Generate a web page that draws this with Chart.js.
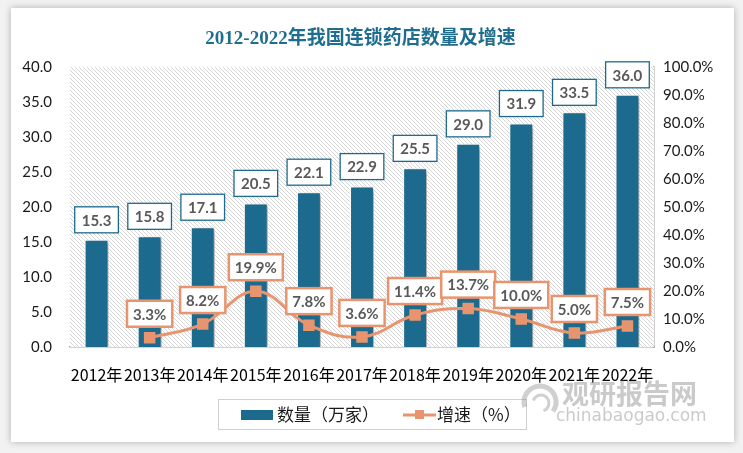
<!DOCTYPE html>
<html>
<head>
<meta charset="utf-8">
<script src="https://cdn.jsdelivr.net/npm/chart.js@4.4.0/dist/chart.umd.min.js"></script>
<style>
  html, body { margin: 0; padding: 0; background: #f2f2f2; }
  #wrap { position: relative; width: 743px; height: 453px; overflow: hidden; }
  #card { position: absolute; left: 11px; top: 8px; width: 723px; height: 434px; background: #fff;
          box-shadow: 0 0 7px rgba(0,0,0,0.28); }
  #c { position: absolute; left: 0; top: 0; }
</style>
</head>
<body>
<div id="wrap">
  <div id="card"></div>
  <canvas id="c" width="743" height="453"></canvas>
</div>
<script>
// 数据
const years = ['2012年', '2013年', '2014年', '2015年', '2016年', '2017年', '2018年', '2019年', '2020年', '2021年', '2022年'];
const storeCounts = [15.3, 15.8, 17.1, 20.5, 22.1, 22.9, 25.5, 29.0, 31.9, 33.5, 36.0];
const growthRates = [null, 3.3, 8.2, 19.9, 7.8, 3.6, 11.4, 13.7, 10.0, 5.0, 7.5];
const seriesNames = ['数量（万家）', '增速（%）'];
const countTicks = { min: 0, max: 40, step: 5 };
const rateTicks = { min: 0, max: 100, step: 10 };

const barColor = '#1c6a8e';
const lineColor = '#e8956f';
const labelGray = '#595959';
const numFont = 'Lato, "Noto Sans", sans-serif';

// 斜线底纹
function makeHatch() {
    const p = document.createElement('canvas');
    p.width = 4; p.height = 4;
    const g = p.getContext('2d');
    g.fillStyle = '#fff';
    g.fillRect(0, 0, 4, 4);
    g.strokeStyle = '#d6d6d6';
    g.lineWidth = 1;
    g.beginPath();
    g.moveTo(-1, -1); g.lineTo(5, 5);
    g.moveTo(-1, 3); g.lineTo(1, 5);
    g.moveTo(3, -1); g.lineTo(5, 1);
    g.stroke();
    return p;
}

const hatchPlugin = {
    id: 'hatch',
    beforeDatasetsDraw(chart) {
        const { ctx, chartArea: a } = chart;
        ctx.save();
        ctx.fillStyle = ctx.createPattern(makeHatch(), 'repeat');
        ctx.fillRect(a.left, a.top, a.right - a.left, a.bottom - a.top);
        ctx.restore();
    },
    beforeDatasetDraw(chart, args) {
        if (args.index === 1) {
            chart.ctx.save();
            chart.ctx.shadowColor = 'rgba(0,0,0,0.35)';
            chart.ctx.shadowBlur = 4;
            chart.ctx.shadowOffsetX = 3;
            chart.ctx.shadowOffsetY = 2;
        }
    },
    afterDatasetDraw(chart, args) {
        if (args.index === 1) chart.ctx.restore();
    }
};

function drawBoxLabel(ctx, text, cx, cy, border, lw, padX) {
    ctx.font = 'bold 15px ' + numFont;
    const w = ctx.measureText(text).width + padX * 2;
    const h = 26;
    ctx.fillStyle = '#fff';
    ctx.fillRect(cx - w / 2, cy - h / 2, w, h);
    ctx.strokeStyle = border;
    ctx.lineWidth = lw;
    ctx.strokeRect(cx - w / 2, cy - h / 2, w, h);
    ctx.fillStyle = labelGray;
    ctx.textAlign = 'center';
    ctx.textBaseline = 'middle';
    ctx.fillText(text, cx, cy + 1);
}

const labelPlugin = {
    id: 'boxLabels',
    afterDatasetsDraw(chart) {
        const ctx = chart.ctx;
        ctx.save();
        chart.getDatasetMeta(1).data.forEach((bar, i) => {
            drawBoxLabel(ctx, storeCounts[i].toFixed(1), bar.x, bar.y - 20, barColor, 1.3, 7);
        });
        chart.getDatasetMeta(0).data.forEach((pt, i) => {
            if (growthRates[i] == null) return;
            drawBoxLabel(ctx, growthRates[i].toFixed(1) + '%', pt.x, pt.y - 24, lineColor, 2.5, 6);
        });
        ctx.restore();
    }
};

// 图例和水印
const legendPlugin = {
    id: 'boxLegend',
    afterDraw(chart) {
        const ctx = chart.ctx;
        ctx.save();
        ctx.strokeStyle = '#d0d0d0';
        ctx.lineWidth = 1;
        ctx.strokeRect(218.5, 399.5, 308, 30);
        ctx.fillStyle = barColor;
        ctx.fillRect(241, 410, 32, 10);
        ctx.font = '17px "Noto Sans CJK SC", sans-serif';
        ctx.textBaseline = 'middle';
        ctx.textAlign = 'left';
        ctx.fillStyle = '#1a1a1a';
        ctx.fillText(seriesNames[0], 277, 415);
        ctx.strokeStyle = lineColor;
        ctx.lineWidth = 3;
        ctx.beginPath();
        ctx.moveTo(403, 415); ctx.lineTo(436, 415);
        ctx.stroke();
        ctx.fillStyle = lineColor;
        ctx.fillRect(415, 410, 9, 9);
        ctx.fillStyle = '#1a1a1a';
        ctx.fillText(seriesNames[1], 437, 415);

        // 水印
        ctx.globalAlpha = 0.4;
        ctx.strokeStyle = '#8a8a8a';
        ctx.lineWidth = 5;
        ctx.beginPath();
        ctx.arc(540, 402, 16, Math.PI * 0.9, Math.PI * 2.2);
        ctx.stroke();
        ctx.lineWidth = 3;
        ctx.beginPath();
        ctx.arc(541, 403, 8, Math.PI * 1.1, Math.PI * 2.4);
        ctx.stroke();
        ctx.fillStyle = '#7a7a7a';
        ctx.font = 'bold 27px "Noto Sans CJK SC", sans-serif';
        ctx.textAlign = 'left';
        ctx.fillText('观研报告网', 562, 394);
        ctx.font = '17px "DejaVu Sans", sans-serif';
        ctx.fillText('chinabaogao.com', 556, 417);
        ctx.restore();
    }
};

new Chart(document.getElementById('c'), {
    data: {
        labels: years,
        datasets: [
            {
                type: 'line',
                label: seriesNames[1],
                data: growthRates,
                yAxisID: 'yRate',
                borderColor: lineColor,
                borderWidth: 3,
                tension: 0.4,
                pointStyle: 'rect',
                pointRadius: 6,
                pointBackgroundColor: lineColor,
                pointBorderColor: lineColor,
                spanGaps: false,
                order: 0
            },
            {
                type: 'bar',
                label: seriesNames[0],
                data: storeCounts,
                yAxisID: 'yCount',
                backgroundColor: barColor,
                borderColor: '#ffffff',
                borderWidth: 1,
                categoryPercentage: 1,
                barPercentage: 0.45,
                order: 1
            }
        ]
    },
    options: {
        responsive: false,
        animation: false,
        devicePixelRatio: 1,
        layout: { padding: { left: 0, right: 22, top: 28, bottom: 0 } },
        plugins: {
            legend: { display: false },
            tooltip: { enabled: false },
            title: {
                display: true,
                text: '2012-2022年我国连锁药店数量及增速',
                color: '#1f6e8f',
                font: { family: '"Liberation Serif", "Noto Sans CJK SC", serif', size: 19, weight: 'bold' },
                padding: { top: 0, bottom: 16 }
            }
        },
        scales: {
            x: {
                grid: { display: false, drawTicks: false },
                border: { display: true, color: '#a6a6a6', width: 1.5 },
                ticks: {
                    autoSkip: false, maxRotation: 0, padding: 18,
                    color: '#000', font: { family: '"Noto Sans CJK SC", sans-serif', size: 16 }
                },
                afterFit(s) { s.height = 106; }
            },
            yCount: {
                position: 'left',
                min: countTicks.min, max: countTicks.max,
                grid: { display: false },
                border: { display: false },
                ticks: {
                    stepSize: countTicks.step, padding: 10,
                    color: '#1a1a1a', font: { family: numFont, size: 15 },
                    callback: v => v.toFixed(1)
                },
                afterFit(s) { s.width = 70; }
            },
            yRate: {
                position: 'right',
                min: rateTicks.min, max: rateTicks.max,
                grid: { display: false, drawOnChartArea: false, drawTicks: true, tickLength: 5, color: '#a6a6a6' },
                border: { display: true, color: '#a6a6a6', width: 1.5 },
                ticks: {
                    stepSize: rateTicks.step, padding: 4,
                    color: '#1a1a1a', font: { family: numFont, size: 15 },
                    callback: v => v.toFixed(1) + '%'
                },
                afterFit(s) { s.width = 67; }
            }
        }
    },
    plugins: [hatchPlugin, labelPlugin, legendPlugin]
});
</script>
</body>
</html>
